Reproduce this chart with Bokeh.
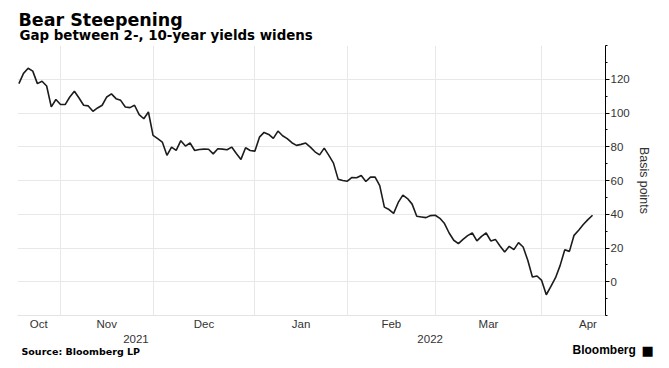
import math
from bokeh.plotting import figure
from bokeh.models import Range1d, LinearAxis, FixedTicker, Label, ColumnDataSource, Grid, Title
from bokeh.layouts import column
from bokeh.embed import file_html
from bokeh.resources import INLINE

# 2-10 year yield gap, basis points, one value per trading day (Oct 20 2021 - Apr 14 2022)
spread_bp = [
    117.4, 123.5, 126.5, 124.8, 117.4, 118.8, 116.0, 103.6, 108.0, 105.0,
    105.0, 109.5, 112.9, 108.9, 104.6, 104.2, 101.0, 103.0, 104.6, 109.5,
    111.3, 108.5, 107.5, 103.6, 103.2, 104.6, 99.0, 96.6, 100.6, 86.7,
    84.8, 82.8, 74.9, 79.8, 77.8, 83.6, 80.4, 82.2, 77.8, 78.4,
    78.6, 78.5, 75.8, 78.8, 78.6, 78.2, 79.8, 76.0, 72.5, 79.4,
    77.8, 77.4, 85.7, 88.5, 87.3, 85.0, 89.3, 86.5, 84.8, 82.4,
    80.8, 81.4, 82.2, 79.8, 77.0, 75.2, 79.2, 74.9, 70.3, 60.8,
    60.0, 59.6, 61.8, 61.6, 63.0, 59.4, 62.0, 62.0, 57.0, 44.2,
    42.8, 40.5, 47.0, 51.3, 49.3, 46.0, 38.8, 38.4, 38.0, 39.2,
    39.4, 37.6, 34.5, 28.9, 24.6, 22.6, 25.1, 27.3, 28.9, 24.2,
    26.9, 28.9, 24.2, 25.1, 21.2, 17.6, 21.0, 19.0, 23.2, 20.6,
    12.7, 2.8, 3.4, 0.8, -7.7, -2.8, 2.4, 9.7, 19.0, 18.0,
    27.5, 30.5, 33.9, 36.8, 39.4,
]
day_index = list(range(len(spread_bp)))

month_labels = ["Oct", "Nov", "Dec", "Jan", "Feb", "Mar", "Apr"]
month_label_pos = [4.3, 19, 40, 61, 80.5, 101.5, 123]
month_start_idx = [9, 29, 51, 71, 90, 113]
year_labels = ["2021", "2022"]
year_label_pos = [25.3, 88.9]
y_major = [0, 20, 40, 60, 80, 100, 120]
y_minor = [-20, -10, 0, 10, 20, 30, 40, 50, 60, 70, 80, 90, 100, 110, 120, 130, 140]

W = 669
HEAD_H, MAIN_H, FOOT_H = 44, 288, 36
B_LEFT, B_RIGHT, B_TOP, B_BOTTOM = 17, 64, 1, 16
X0, X1 = -0.3, 126.8
sans = "Liberation Sans"


def blank(height, x_range, y_range):
    f = figure(width=W, height=height, output_backend="svg", toolbar_location=None,
               x_range=x_range, y_range=y_range,
               x_axis_location=None, y_axis_location=None,
               min_border=0, min_border_left=0, min_border_right=0,
               min_border_top=0, min_border_bottom=0)
    f.frame_align = False
    f.outline_line_color = None
    f.xgrid.visible = False
    f.ygrid.visible = False
    f.background_fill_color = "white"
    f.border_fill_color = "white"
    return f


def lab(fig, text, x, y, size, font="DejaVu Sans", style="bold", color="#000000",
        align="left", baseline="alphabetic", x_units="screen"):
    fig.add_layout(Label(x=x, y=y, x_units=x_units, y_units="screen", text=text,
                         text_font=font, text_font_size=size, text_font_style=style,
                         text_color=color, text_align=align, text_baseline=baseline))


# ---------------- header ----------------
head = blank(HEAD_H, Range1d(0, 1), Range1d(0, 1))
lab(head, "Bear Steepening", 18, 25, "17.5px")
lab(head, "Gap between 2-, 10-year yields widens", 19, 9, "13.4px")

# ---------------- main chart ----------------
p = figure(width=W, height=MAIN_H, output_backend="svg", toolbar_location=None,
           x_range=Range1d(X0, X1), y_range=Range1d(-20, 140),
           x_axis_location=None, y_axis_location=None,
           min_border_left=B_LEFT, min_border_right=B_RIGHT,
           min_border_top=B_TOP, min_border_bottom=B_BOTTOM)
p.frame_align = False
p.outline_line_color = None
p.background_fill_color = "white"
p.border_fill_color = "white"
p.xgrid.visible = False
p.ygrid.visible = False
p.add_layout(Grid(dimension=0, ticker=FixedTicker(ticks=month_start_idx),
                  grid_line_color="#e8e8e8", grid_line_width=1))
p.add_layout(Grid(dimension=1, ticker=FixedTicker(ticks=y_major),
                  grid_line_color="#e8e8e8", grid_line_width=1))

src = ColumnDataSource(dict(x=day_index, y=spread_bp))
p.line("x", "y", source=src, line_color="#1c1c1c", line_width=1.6)

xa = LinearAxis(ticker=FixedTicker(ticks=month_label_pos, minor_ticks=[]),
                major_label_overrides={pos: m for pos, m in zip(month_label_pos, month_labels)})
xa.axis_line_color = "#e4e4e4"
xa.major_tick_line_color = None
xa.minor_tick_line_color = None
xa.major_tick_in = 0
xa.major_tick_out = 0
xa.minor_tick_in = 0
xa.minor_tick_out = 0
xa.major_label_standoff = 2
xa.major_label_text_font = sans
xa.major_label_text_font_size = "11.5px"
xa.major_label_text_color = "#333333"
p.add_layout(xa, "below")

ra = LinearAxis(ticker=FixedTicker(ticks=y_major, minor_ticks=y_minor))
ra.axis_line_color = "#000000"
ra.major_tick_in = 0
ra.major_tick_out = 4
ra.minor_tick_in = 0
ra.minor_tick_out = 2
ra.major_tick_line_color = "#000000"
ra.minor_tick_line_color = "#000000"
ra.major_label_standoff = 1
ra.major_label_text_font = sans
ra.major_label_text_font_size = "11.5px"
ra.major_label_text_color = "#333333"
p.add_layout(ra, "right")

p.add_layout(Title(text="Basis points", align="center", text_font=sans,
                   text_font_size="12.4px", text_font_style="normal",
                   text_color="#333333", standoff=9), "right")

# ---------------- footer ----------------
k = (W - B_LEFT - B_RIGHT) / (X1 - X0)
foot = blank(FOOT_H, Range1d(X0 - B_LEFT / k, X1 + B_RIGHT / k), Range1d(0, 1))
for pos, yl in zip(year_label_pos, year_labels):
    lab(foot, yl, pos, 30, "11.5px", font=sans, style="normal", color="#333333",
        align="center", x_units="data")
lab(foot, "Source: Bloomberg LP", 21, 17, "9.5px")
lab(foot, "Bloomberg", 572, 19, "12px", font=sans)
lab(foot, "\u25A0", 641, 18, "13px", style="normal")

layout = column(head, p, foot, spacing=0)
open("out.html", "w").write(file_html(layout, INLINE))
